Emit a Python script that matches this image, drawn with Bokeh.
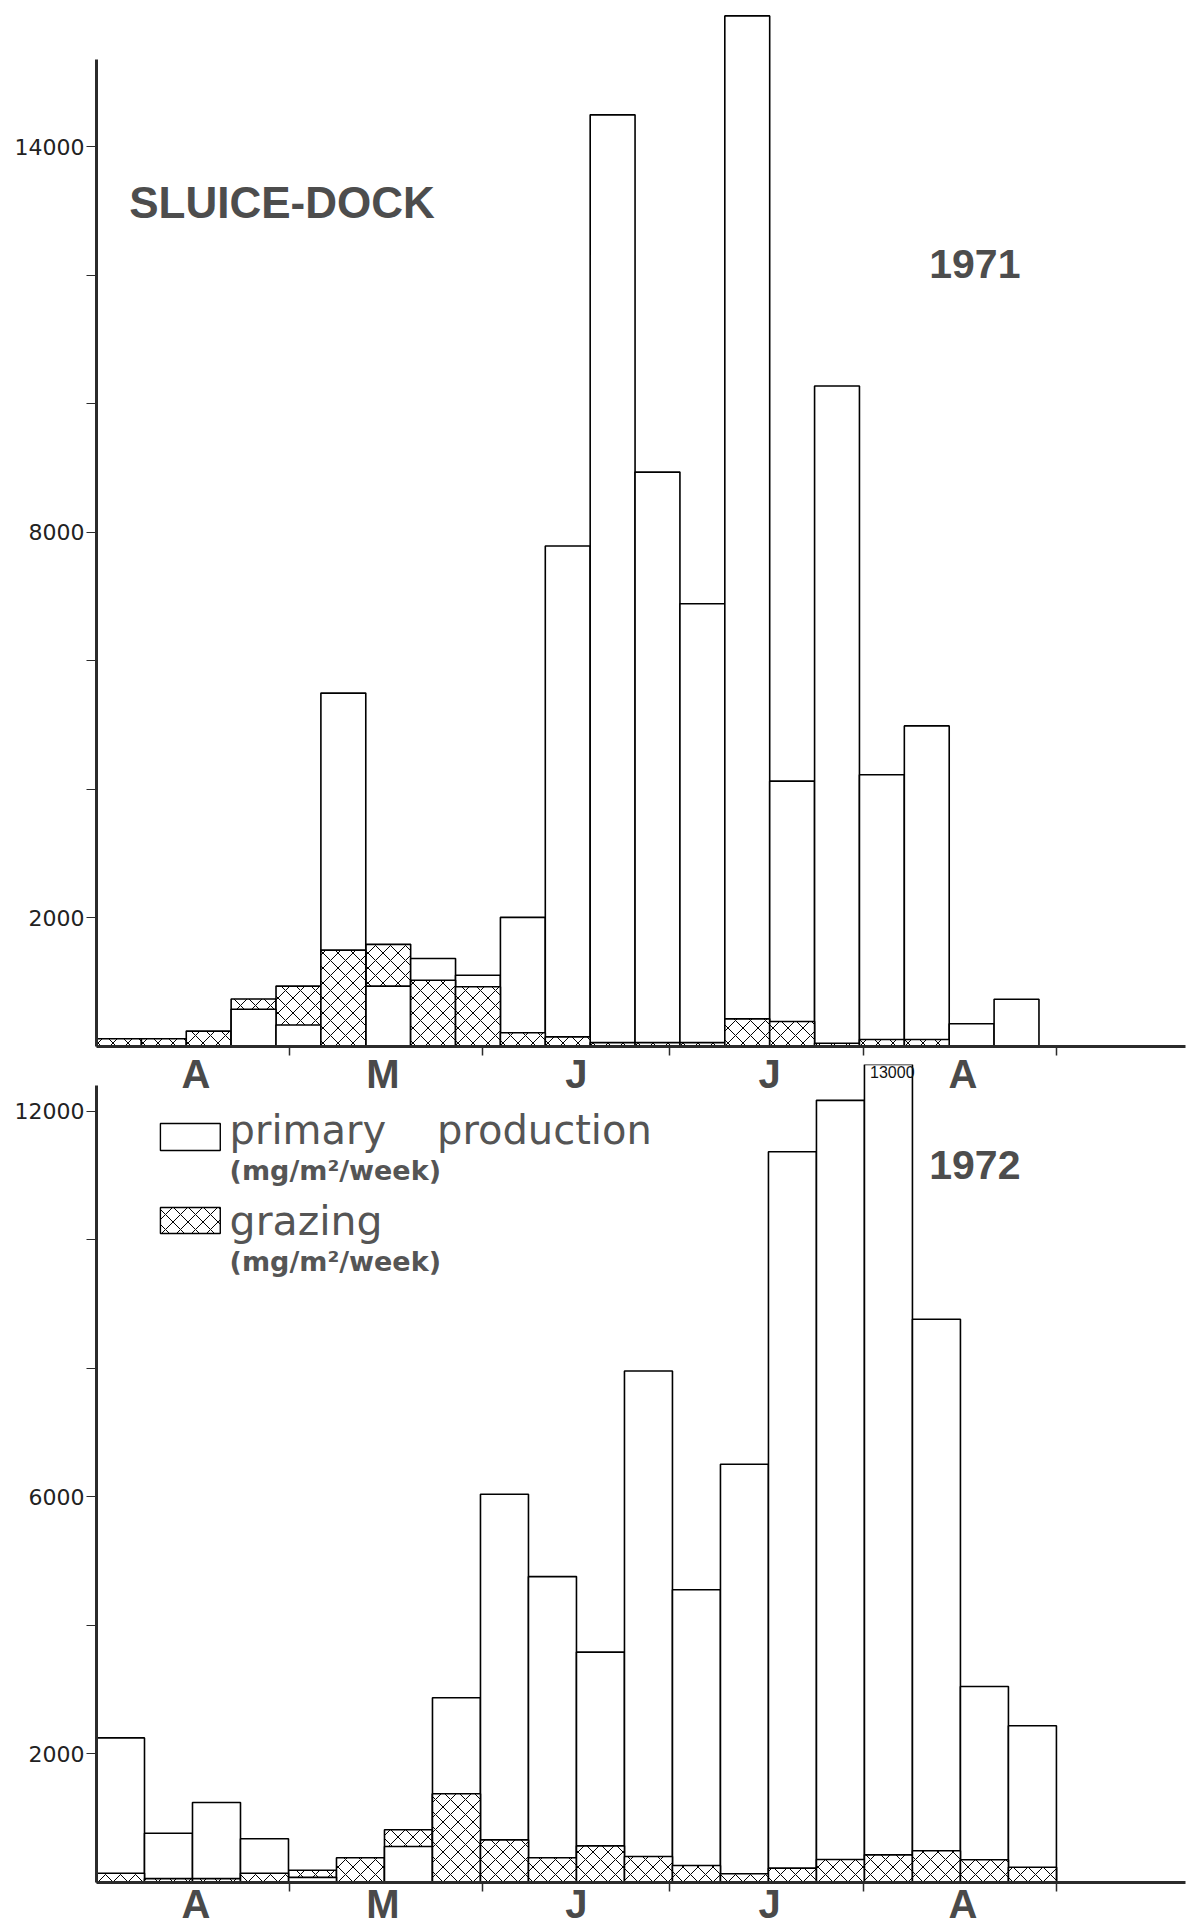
import numpy as np
from bokeh.plotting import figure
from bokeh.models import Range1d, FixedTicker, Label, BoxAnnotation
from bokeh.layouts import column
from bokeh.embed import file_html
from bokeh.resources import INLINE

# ---------------- data ----------------
month_labels = ["A", "M", "J", "J", "A"]
month_mid_day = [15, 45, 76, 107, 138]        # days after 1 April
month_start_day = [30, 61, 91, 122, 153]      # 1 May ... 1 Sept

# weekly values (mg/m2/week)
primary_1971 = [0, 0, 0, 580, 335, 5500, 940, 1370, 1110, 2010, 7790,
                14500, 8940, 6890, 16040, 4130, 10280, 4230, 4990, 355, 735]
grazing_1971 = [120, 120, 240, 740, 940, 1500, 1590, 1030, 930, 215, 150,
                60, 60, 60, 430, 390, 50, 110, 110, 0, 0]

primary_1972 = [2250, 767, 1245, 680, 80, 0, 560, 2875, 6040, 4760, 3585,
                7960, 4556, 6508, 11370, 12170, 13000, 8763, 3050, 2440]
grazing_1972 = [145, 60, 60, 145, 190, 384, 820, 1380, 664, 384, 570,
                405, 265, 135, 223, 358, 430, 493, 353, 238]

# sampling period spanned by the bars (days after 1 April)
period_1971 = (-0.95, 150.2)
period_1972 = (-0.95, 153.0)

labelled_1971 = [2000, 8000, 14000]
labelled_1972 = [2000, 6000, 12000]

X_RANGE = (-0.95, 173.7)
HATCH = dict(hatch_pattern="x", hatch_scale=15, hatch_color="black", hatch_weight=1)
INK = "#2b2b2b"


def make_panel(primary, grazing, period, y_top, axis_top, labelled,
               frame_h, border_bottom, label_standoff, transparent=False):
    n = len(primary)
    edges = np.linspace(period[0], period[1], n + 1)
    x = (edges[:-1] + edges[1:]) / 2
    w = edges[1] - edges[0]
    prim = np.array(primary, dtype=float)
    graz = np.array(grazing, dtype=float)

    p = figure(frame_width=1089, frame_height=frame_h,
               x_range=Range1d(*X_RANGE), y_range=Range1d(0, y_top),
               output_backend="svg", toolbar_location=None,
               min_border_left=96, min_border_right=14,
               min_border_top=0, min_border_bottom=border_bottom)
    p.xgrid.visible = False
    p.ygrid.visible = False
    p.outline_line_color = None
    if transparent:
        p.background_fill_color = None
        p.border_fill_color = None

    # grazing behind (visible where grazing exceeds production)
    p.vbar(x=x, width=w, top=graz, bottom=0, fill_color="white",
           line_color="black", line_width=1.6, **HATCH)
    # primary production
    p.vbar(x=x, width=w, top=prim, bottom=0, fill_color="white",
           line_color="black", line_width=1.6)
    # grazing in front where it is the smaller value
    m = graz <= prim
    p.vbar(x=x[m], width=w, top=graz[m], bottom=0, fill_color="white",
           line_color="black", line_width=1.6, **HATCH)

    yax = p.yaxis[0]
    ticks = [t for t in range(2000, 16001, 2000) if t <= axis_top]
    yax.ticker = FixedTicker(ticks=ticks)
    yax.major_label_overrides = {t: (str(t) if t in labelled else "") for t in ticks}
    yax.bounds = (0, axis_top)
    yax.axis_line_width = 3
    yax.axis_line_color = INK
    yax.major_tick_out = 10
    yax.major_tick_in = 0
    yax.major_tick_line_width = 1.2
    yax.major_tick_line_color = INK
    yax.minor_tick_line_color = None
    yax.major_label_standoff = 2
    yax.major_label_text_font = "DejaVu Sans"
    yax.major_label_text_font_size = "22px"
    yax.major_label_text_color = "#222222"

    xax = p.xaxis[0]
    xax.ticker = FixedTicker(ticks=month_mid_day, minor_ticks=month_start_day)
    xax.major_label_overrides = {d: mth for d, mth in zip(month_mid_day, month_labels)}
    xax.axis_line_width = 3
    xax.axis_line_color = INK
    xax.major_tick_line_color = None
    xax.minor_tick_out = 9
    xax.minor_tick_in = 0
    xax.minor_tick_line_width = 1.5
    xax.minor_tick_line_color = INK
    xax.major_label_standoff = label_standoff
    xax.major_label_text_font = "Liberation Sans"
    xax.major_label_text_font_style = "bold"
    xax.major_label_text_font_size = "40px"
    xax.major_label_text_color = "#4a4a4a"
    return p, edges


# ---------------- 1971 ----------------
p1, e1 = make_panel(primary_1971, grazing_1971, period_1971, 16280, 15360,
                    labelled_1971, 1046, 60, -4)
p1.add_layout(Label(x=4.3, y=13130, text="SLUICE-DOCK", text_font="Liberation Sans",
                    text_font_style="bold", text_font_size="44px",
                    text_color="#4d4d4d", text_baseline="alphabetic"))
p1.add_layout(Label(x=132.6, y=12185, text="1971", text_font="Liberation Sans",
                    text_font_style="bold", text_font_size="41px",
                    text_color="#4d4d4d", text_baseline="alphabetic"))

# ---------------- 1972 ----------------
p2, e2 = make_panel(primary_1972, grazing_1972, period_1972, 12728, 12400,
                    labelled_1972, 818, 45, -10, transparent=True)
p2.margin = (-42, 0, 0, 0)
p2.add_layout(Label(x=132.6, y=11162, text="1972", text_font="Liberation Sans",
                    text_font_style="bold", text_font_size="41px",
                    text_color="#4d4d4d", text_baseline="alphabetic"))
peak = int(np.argmax(primary_1972))
p2.add_layout(Label(x=e2[peak] + 0.9, y=12612, text=str(primary_1972[peak]),
                    text_font="Liberation Sans", text_font_size="16px",
                    text_color="#111111", text_baseline="alphabetic"))

# legend
p2.add_layout(BoxAnnotation(left=9.3, right=18.9, bottom=11390, top=11810,
                            fill_color="white", fill_alpha=1.0,
                            line_color="black", line_alpha=1.0, line_width=1.4))
p2.add_layout(BoxAnnotation(left=9.3, right=18.9, bottom=10098, top=10502,
                            fill_color="white", fill_alpha=1.0,
                            line_color="black", line_alpha=1.0, line_width=1.4,
                            **HATCH))
for txt, yy, size, style in [
        ("primary\u00a0\u00a0\u00a0\u00a0production", 11716, "40px", "normal"),
        ("(mg/m\u00b2/week)", 11086, "27px", "bold"),
        ("grazing", 10295, "41px", "normal"),
        ("(mg/m\u00b2/week)", 9655, "27px", "bold")]:
    p2.add_layout(Label(x=20.4, y=yy, text=txt, text_font="DejaVu Sans",
                        text_font_size=size, text_font_style=style,
                        text_color="#555555", text_baseline="alphabetic"))

layout = column(p1, p2, spacing=0)
open("out.html", "w").write(file_html(layout, INLINE, title="Sluice-Dock"))
